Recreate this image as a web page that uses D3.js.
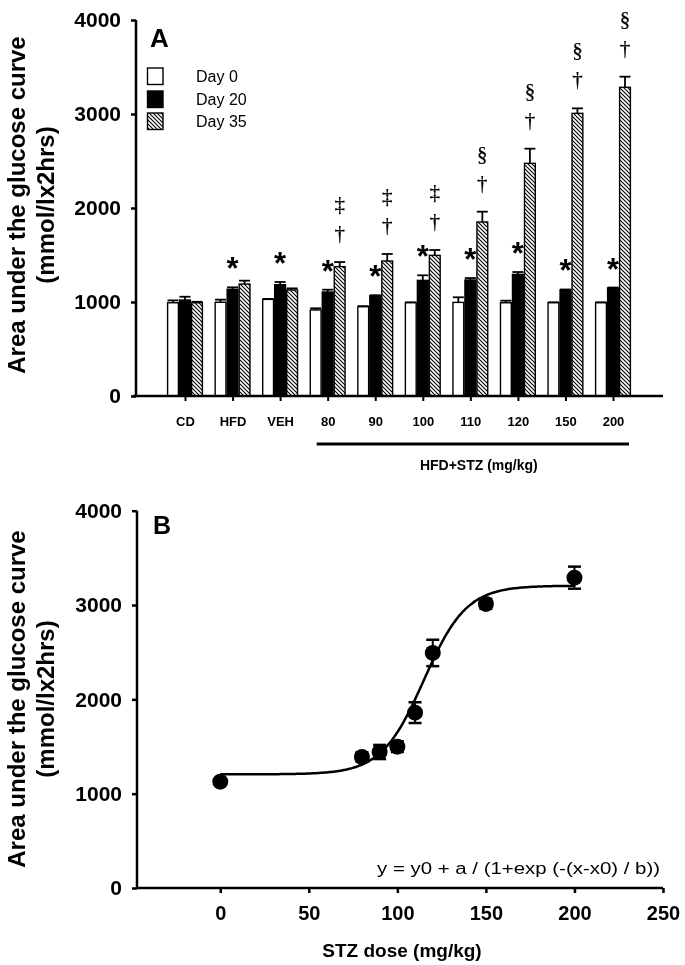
<!DOCTYPE html>
<html>
<head>
<meta charset="utf-8">
<script src="https://cdn.jsdelivr.net/npm/d3@7/dist/d3.min.js"></script>
<style>
  html, body { margin: 0; padding: 0; background: #fff; }
  svg { display: block; will-change: transform; }
  text { font-family: "Liberation Sans", Arial, sans-serif; fill: #000; }
</style>
</head>
<body>
<svg id="chart" width="685" height="965"></svg>
<script>
// ---------------- DATA ----------------
const categories = ["CD", "HFD", "VEH", "80", "90", "100", "110", "120", "150", "200"];
const seriesNames = ["Day 0", "Day 20", "Day 35"];
const day0     = [992, 997, 1028, 915, 950, 992, 996, 992, 992, 992];
const day0Err  = [25, 28, 5, 18, 6, 5, 54, 22, 5, 5];
const day20    = [1021, 1135, 1184, 1106, 1067, 1230, 1234, 1294, 1128, 1149];
const day20Err = [35, 21, 29, 25, 5, 54, 21, 25, 5, 5];
const day35    = [992, 1191, 1128, 1376, 1436, 1496, 1851, 2475, 3007, 3284];
const day35Err = [10, 36, 17, 49, 75, 57, 110, 156, 53, 113];
const day20Star = ["", "*", "*", "*", "*", "*", "*", "*", "*", "*"];
const day35Mark1 = ["", "", "", "†", "†", "†", "†", "†", "†", "†"];
const day35Mark2 = ["", "", "", "‡", "‡", "‡", "§", "§", "§", "§"];
const yTicks = [0, 1000, 2000, 3000, 4000];
const groupLabel = "HFD+STZ (mg/kg)";
const stzGroups = ["80", "200"];

const doseX   = [0, 80, 90, 100, 110, 120, 150, 200];
const doseY   = [1127, 1389, 1442, 1498, 1859, 2492, 3012, 3290];
const doseErr = [17, 49, 75, 57, 110, 140, 53, 117];
const xTicksB = [0, 50, 100, 150, 200, 250];
const fitY0 = 1205, fitA = 2000, fitX0 = 115, fitB = 12;
const fitRange = [0, 200];
const formulaText = "y = y0 + a / (1+exp (-(x-x0) / b))";
const yTitle1 = "Area under the glucose curve";
const yTitle2 = "(mmol/lx2hrs)";
const xTitleB = "STZ dose (mg/kg)";

// ---------------- SETUP ----------------
const svg = d3.select("#chart");
svg.append("rect").attr("width", 685).attr("height", 965).attr("fill", "#fff");
const defs = svg.append("defs");
const pat = defs.append("pattern")
  .attr("id", "hatch").attr("patternUnits", "userSpaceOnUse")
  .attr("width", 4).attr("height", 4);
pat.append("rect").attr("width", 4).attr("height", 4).attr("fill", "#fff");
pat.append("path").attr("d", "M-1,-1 L5,5 M-1,3 L1,5 M3,-1 L5,1")
  .attr("stroke", "#000").attr("stroke-width", 1.1);

const fills = ["#fff", "#000", "url(#hatch)"];
const seriesVals = [day0, day20, day35];
const seriesErrs = [day0Err, day20Err, day35Err];

function yTitle(g, cy) {
  g.append("text").attr("transform", `translate(25,${cy}) rotate(-90)`)
    .attr("text-anchor", "middle").style("font-weight", "bold").style("font-size", "24px")
    .text(yTitle1);
  g.append("text").attr("transform", `translate(54,${cy}) rotate(-90)`)
    .attr("text-anchor", "middle").style("font-weight", "bold").style("font-size", "24px")
    .text(yTitle2);
}

// ---------------- PANEL A ----------------
const gA = svg.append("g");
const yA = d3.scaleLinear().domain([0, 4000]).range([396, 20]);
const xA = d3.scalePoint().domain(categories).range([185, 613]);
const xInner = d3.scaleBand().domain(seriesNames).range([-18, 18]);
const bw = xInner.bandwidth();

yTitle(gA, 205);

// bars
seriesNames.forEach((s, si) => {
  const vals = seriesVals[si], errs = seriesErrs[si];
  const g = gA.append("g");
  categories.forEach((c, i) => {
    const x0 = xA(c) + xInner(s);
    g.append("line").attr("x1", x0 + bw / 2).attr("x2", x0 + bw / 2)
      .attr("y1", yA(vals[i])).attr("y2", yA(vals[i] + errs[i]))
      .attr("stroke", "#000").attr("stroke-width", 1.8);
    g.append("line").attr("x1", x0 + 0.5).attr("x2", x0 + bw - 0.5)
      .attr("y1", yA(vals[i] + errs[i])).attr("y2", yA(vals[i] + errs[i]))
      .attr("stroke", "#000").attr("stroke-width", 1.8);
    g.append("rect").attr("x", x0 + 0.6).attr("width", bw - 1.2)
      .attr("y", yA(vals[i])).attr("height", yA(0) - yA(vals[i]))
      .attr("fill", fills[si]).attr("stroke", "#000").attr("stroke-width", 1.4);
  });
});

// stars above Day 20
categories.forEach((c, i) => {
  if (!day20Star[i]) return;
  const cx = xA(c) + xInner("Day 20") + bw / 2;
  const cy = yA(day20[i] + day20Err[i]) - 26;
  gA.append("text").attr("x", cx).attr("y", cy + 18)
    .attr("text-anchor", "middle").style("font-weight", "bold").style("font-size", "31px")
    .text(day20Star[i]);
});
// daggers above Day 35
const markStyle = sel => sel.attr("text-anchor", "middle")
  .style("font-family", "'Liberation Serif', serif").style("font-size", "21px")
  .attr("fill", "#000").attr("stroke", "#000").attr("stroke-width", 0.25);
categories.forEach((c, i) => {
  const cx = xA(c) + xInner("Day 35") + bw / 2;
  const c1 = yA(day35[i] + day35Err[i]) - 28;
  if (day35Mark1[i]) gA.append("text").attr("x", cx).attr("y", c1 + 6)
    .call(markStyle).text(day35Mark1[i]);
  if (day35Mark2[i]) gA.append("text").attr("x", cx).attr("y", c1 - 29 + 6)
    .call(markStyle).text(day35Mark2[i]);
});

// axes A
const axYA = gA.append("g").attr("transform", "translate(136,0)")
  .call(d3.axisLeft(yA).tickValues(yTicks).tickSize(5).tickPadding(10).tickFormat(d3.format("d")));
axYA.select(".domain").attr("stroke-width", 2.5).attr("d", "M0,20V396");
axYA.selectAll(".tick line").attr("stroke-width", 2.5);
axYA.selectAll(".tick text").style("font-size", "21px").style("font-weight", "bold")
  .style("font-family", "'Liberation Sans', Arial, sans-serif");

const axXA = gA.append("g").attr("transform", "translate(0,396)")
  .call(d3.axisBottom(xA).tickSize(5).tickPadding(16));
axXA.select(".domain").attr("d", "M133,0H663").attr("stroke-width", 2.5);
axXA.selectAll(".tick line").attr("stroke-width", 2);
axXA.selectAll(".tick text").style("font-size", "13px").style("font-weight", "bold")
  .style("font-family", "'Liberation Sans', Arial, sans-serif");

// HFD+STZ group line
const gx1 = xA(stzGroups[0]) - 11, gx2 = xA(stzGroups[1]) + 16;
gA.append("line").attr("x1", gx1).attr("x2", gx2).attr("y1", 444).attr("y2", 444)
  .attr("stroke", "#000").attr("stroke-width", 3);
gA.append("text").attr("x", (gx1 + gx2) / 2 + 6).attr("y", 470)
  .attr("text-anchor", "middle").style("font-size", "14px").style("font-weight", "bold")
  .text(groupLabel);

gA.append("text").attr("x", 150).attr("y", 47).style("font-size", "26px").style("font-weight", "bold").text("A");

// legend
seriesNames.forEach((s, i) => {
  const ys = [68, 91, 113][i];
  gA.append("rect").attr("x", 147.5).attr("y", ys).attr("width", 15.5).attr("height", 16.5)
    .attr("fill", fills[i]).attr("stroke", "#000").attr("stroke-width", 1.4);
  gA.append("text").attr("x", 196).attr("y", ys + 14).style("font-size", "16px").text(s);
});

// ---------------- PANEL B ----------------
const gB = svg.append("g");
const yB = d3.scaleLinear().domain([0, 4000]).range([888, 510.7]);
const xB = d3.scaleLinear().domain([-47, 250]).range([137, 663]);

yTitle(gB, 699);

const axYB = gB.append("g").attr("transform", "translate(137,0)")
  .call(d3.axisLeft(yB).tickValues(yTicks).tickSize(5).tickPadding(10).tickFormat(d3.format("d")));
axYB.select(".domain").attr("stroke-width", 2.5).attr("d", "M0,510.7V888");
axYB.selectAll(".tick line").attr("stroke-width", 2.5);
axYB.selectAll(".tick text").style("font-size", "21px").style("font-weight", "bold")
  .style("font-family", "'Liberation Sans', Arial, sans-serif");

const axXB = gB.append("g").attr("transform", "translate(0,888)")
  .call(d3.axisBottom(xB).tickValues(xTicksB).tickSize(5).tickPadding(13).tickFormat(d3.format("d")));
axXB.select(".domain").attr("d", "M137,0H663").attr("stroke-width", 2.5);
axXB.selectAll(".tick line").attr("stroke-width", 2.5);
axXB.selectAll(".tick text").style("font-size", "20px").style("font-weight", "bold")
  .style("font-family", "'Liberation Sans', Arial, sans-serif");

gB.append("text").attr("x", 402).attr("y", 957).attr("text-anchor", "middle")
  .style("font-size", "19px").style("font-weight", "bold").text(xTitleB);

gB.append("text").attr("x", 153).attr("y", 534).style("font-size", "25px").style("font-weight", "bold").text("B");

// fitted curve
const fitPts = d3.range(fitRange[0], fitRange[1] + 0.5, 1);
const fitFn = x => fitY0 + fitA / (1 + Math.exp(-(x - fitX0) / fitB));
gB.append("path").datum(fitPts)
  .attr("d", d3.line().x(d => xB(d)).y(d => yB(fitFn(d))).curve(d3.curveBasis))
  .attr("fill", "none").attr("stroke", "#000").attr("stroke-width", 2.5);

// error bars + points
doseX.forEach((x, i) => {
  const cx = xB(x);
  gB.append("line").attr("x1", cx).attr("x2", cx)
    .attr("y1", yB(doseY[i] - doseErr[i])).attr("y2", yB(doseY[i] + doseErr[i]))
    .attr("stroke", "#000").attr("stroke-width", 2);
  [-1, 1].forEach(sg => {
    gB.append("line").attr("x1", cx - 6.5).attr("x2", cx + 6.5)
      .attr("y1", yB(doseY[i] + sg * doseErr[i])).attr("y2", yB(doseY[i] + sg * doseErr[i]))
      .attr("stroke", "#000").attr("stroke-width", 2.5);
  });
  gB.append("circle").attr("cx", cx).attr("cy", yB(doseY[i])).attr("r", 8).attr("fill", "#000");
});

gB.append("text").attr("x", 660).attr("y", 874).attr("text-anchor", "end")
  .style("font-size", "16px").attr("textLength", 283).attr("lengthAdjust", "spacingAndGlyphs")
  .text(formulaText);
</script>
</body>
</html>
